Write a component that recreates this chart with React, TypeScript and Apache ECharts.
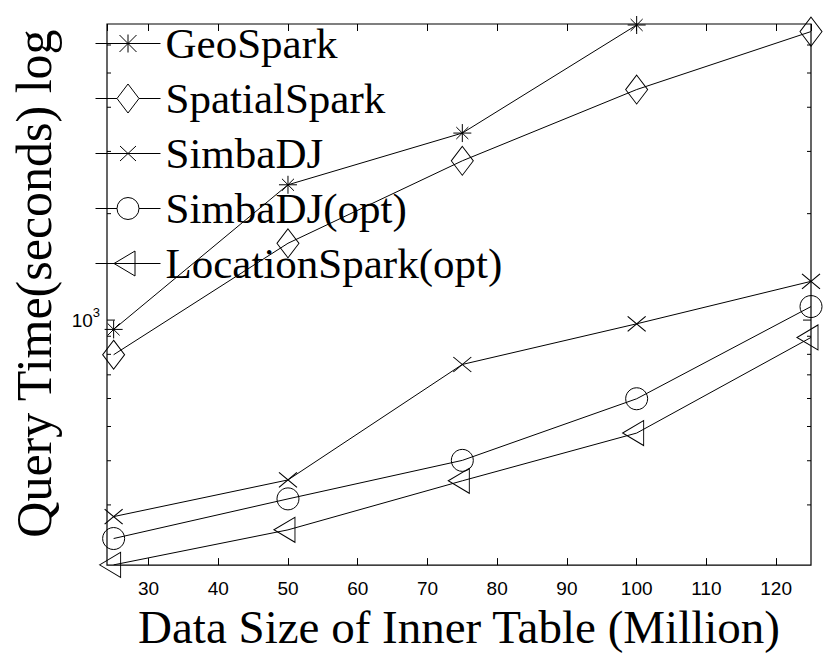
import React, { useEffect, useRef } from 'react';
import * as echarts from 'echarts';

// ---- data ----
const xValues = [25, 50, 75, 100, 125];
const geoSpark = [941, 2414, 3381, 6835];
const spatialSpark = [798, 1649, 2822, 4489, 6549];
const simbaDJ = [278, 353, 749, 976, 1287];
const simbaDJOpt = [241, 312, 401, 599, 1092];
const locationSparkOpt = [203, 255, 351, 479, 893];
const seriesNames = ['GeoSpark', 'SpatialSpark', 'SimbaDJ', 'SimbaDJ(opt)', 'LocationSpark(opt)'];
const yMinorTicks = [300, 400, 500, 600, 700, 800, 900, 2000, 3000, 4000, 5000, 6000];
const yMajorTicks = [1000];

const X_MIN = 24.05;
const X_MAX = 125;
const Y_MIN = 202.7;
const Y_MAX = 6880;

// ---- marker shapes ----
const STAR = 'path://M0 9 L18 9 M9 0 L9 18 M3 3 L15 15 M3 15 L15 3';
const CROSS = 'path://M0 0 L18 15 M0 15 L18 0';
const TRI = 'path://M0 12.5 L21 0 L21 25 Z';

const ICON_STAR = 'path://M0 0 M65 29 M0 14.5 L65 14.5 M32.5 5.5 L32.5 23.5 M24 6 L41 23 M24 23 L41 6';
const ICON_DIAMOND = 'path://M0 0 M65 29 M0 14.5 L21.5 14.5 M43.5 14.5 L65 14.5 M21.5 14.5 L32.5 0 L43.5 14.5 L32.5 29 Z';
const ICON_CROSS = 'path://M0 0 M65 29 M0 14.5 L65 14.5 M24.5 7 L40.5 22 M24.5 22 L40.5 7';
const ICON_CIRCLE = 'path://M0 0 M65 29 M0 14.5 L21.5 14.5 M43.5 14.5 L65 14.5 M21.5 14.5 A11 11 0 1 1 43.5 14.5 A11 11 0 1 1 21.5 14.5 Z';
const ICON_TRI = 'path://M0 0 M65 29 M0 14.5 L65 14.5 M18.5 14.5 L39.5 2 L39.5 27 Z';

const pairs = (ys: number[]) => ys.map((y, i) => [xValues[i], y]);

export default function App() {
  const ref = useRef<HTMLDivElement>(null);
  useEffect(() => {
    if (!ref.current) return;
    const chart = echarts.init(ref.current, null, { renderer: 'svg' });
    const lineCommon = {
      type: 'line' as const,
      xAxisIndex: 0,
      yAxisIndex: 0,
      lineStyle: { color: '#000', width: 1 },
      itemStyle: { color: 'rgba(0,0,0,0)', borderColor: '#000', borderWidth: 1 },
      emphasis: { disabled: true },
      z: 3,
    };
    const xAxisCommon = {
      type: 'value' as const,
      min: X_MIN,
      max: X_MAX,
      minInterval: 10,
      maxInterval: 10,
      axisLine: { show: false },
      splitLine: { show: false },
    };
    const tickData = [...yMinorTicks, ...yMajorTicks].map((v) => [X_MIN, v]);
    chart.setOption({
      animation: false,
      grid: {
        left: 107,
        right: 19,
        top: 24,
        bottom: 80,
        show: true,
        borderColor: '#000',
        borderWidth: 1.2,
        backgroundColor: 'transparent',
      },
      legend: {
        orient: 'vertical',
        left: 90,
        top: 17,
        itemWidth: 65,
        itemHeight: 29,
        itemGap: 12,
        selectedMode: false,
        itemStyle: { color: 'rgba(0,0,0,0)', borderColor: '#000', borderWidth: 1 },
        textStyle: { fontFamily: 'Liberation Serif', fontSize: 43, lineHeight: 43, color: '#000' },
        data: [
          { name: seriesNames[0], icon: ICON_STAR },
          { name: seriesNames[1], icon: ICON_DIAMOND },
          { name: seriesNames[2], icon: ICON_CROSS },
          { name: seriesNames[3], icon: ICON_CIRCLE },
          { name: seriesNames[4], icon: ICON_TRI },
        ],
      },
      xAxis: [
        {
          ...xAxisCommon,
          position: 'bottom',
          name: 'Data Size of Inner Table (Million)',
          nameLocation: 'middle',
          nameGap: 28,
          nameTextStyle: { fontFamily: 'Liberation Serif', fontSize: 47, color: '#000' },
          axisTick: { show: true, inside: true, length: 7, lineStyle: { color: '#000', width: 1 } },
          axisLabel: {
            margin: 14,
            fontFamily: 'Liberation Sans',
            fontSize: 19,
            color: '#000',
            showMinLabel: false,
            showMaxLabel: false,
          },
        },
        {
          ...xAxisCommon,
          position: 'top',
          axisTick: { show: true, inside: true, length: 7, lineStyle: { color: '#000', width: 1 } },
          axisLabel: { show: false },
        },
      ],
      yAxis: [
        {
          type: 'log',
          logBase: 10,
          min: Y_MIN,
          max: Y_MAX,
          axisLine: { show: false },
          axisTick: { show: false },
          splitLine: { show: false },
          minorTick: { show: false },
          name: 'Query Time(seconds) log',
          nameLocation: 'middle',
          nameGap: 48,
          nameTextStyle: {
            fontFamily: 'Liberation Serif',
            fontSize: 50,
            color: '#000',
            padding: [0, 0, 0, 22],
          },
          axisLabel: {
            margin: 7,
            color: '#000',
            fontFamily: 'Liberation Sans',
            fontSize: 19,
            formatter: (v: number) => (Math.abs(v - 1000) < 1e-6 ? '{b|10}{s|3}' : ''),
            rich: {
              b: { fontFamily: 'Liberation Sans', fontSize: 19, color: '#000' },
              s: { fontFamily: 'Liberation Sans', fontSize: 13, color: '#000', padding: [0, 0, 16, 0] },
            },
          },
        },
      ],
      series: [
        { ...lineCommon, name: seriesNames[0], data: pairs(geoSpark), symbol: STAR, symbolSize: 18 },
        { ...lineCommon, name: seriesNames[1], data: pairs(spatialSpark), symbol: 'diamond', symbolSize: [22, 29] },
        { ...lineCommon, name: seriesNames[2], data: pairs(simbaDJ), symbol: CROSS, symbolSize: [18, 15] },
        { ...lineCommon, name: seriesNames[3], data: pairs(simbaDJOpt), symbol: 'circle', symbolSize: 22 },
        {
          ...lineCommon,
          name: seriesNames[4],
          data: pairs(locationSparkOpt),
          symbol: TRI,
          symbolSize: [21, 25],
          symbolOffset: [-3.5, 0],
        },
        {
          type: 'custom',
          name: 'yticks',
          xAxisIndex: 0,
          yAxisIndex: 0,
          silent: true,
          encode: { x: 0, y: 1 },
          data: tickData,
          renderItem: (params: any, api: any) => {
            const v = api.value(1);
            const l = api.coord([X_MIN, v]);
            const r = api.coord([X_MAX, v]);
            const len = yMajorTicks.includes(v) ? 8 : 4;
            return {
              type: 'group',
              children: [
                { type: 'line', shape: { x1: l[0], y1: l[1], x2: l[0] + len, y2: l[1] }, style: { stroke: '#000', lineWidth: 1 } },
                { type: 'line', shape: { x1: r[0] - len, y1: r[1], x2: r[0], y2: r[1] }, style: { stroke: '#000', lineWidth: 1 } },
              ],
            };
          },
        },
      ],
    });
    return () => chart.dispose();
  }, []);
  return <div ref={ref} style={{ width: 830, height: 655, position: 'absolute', left: 0, top: 0, background: '#fff' }} />;
}
